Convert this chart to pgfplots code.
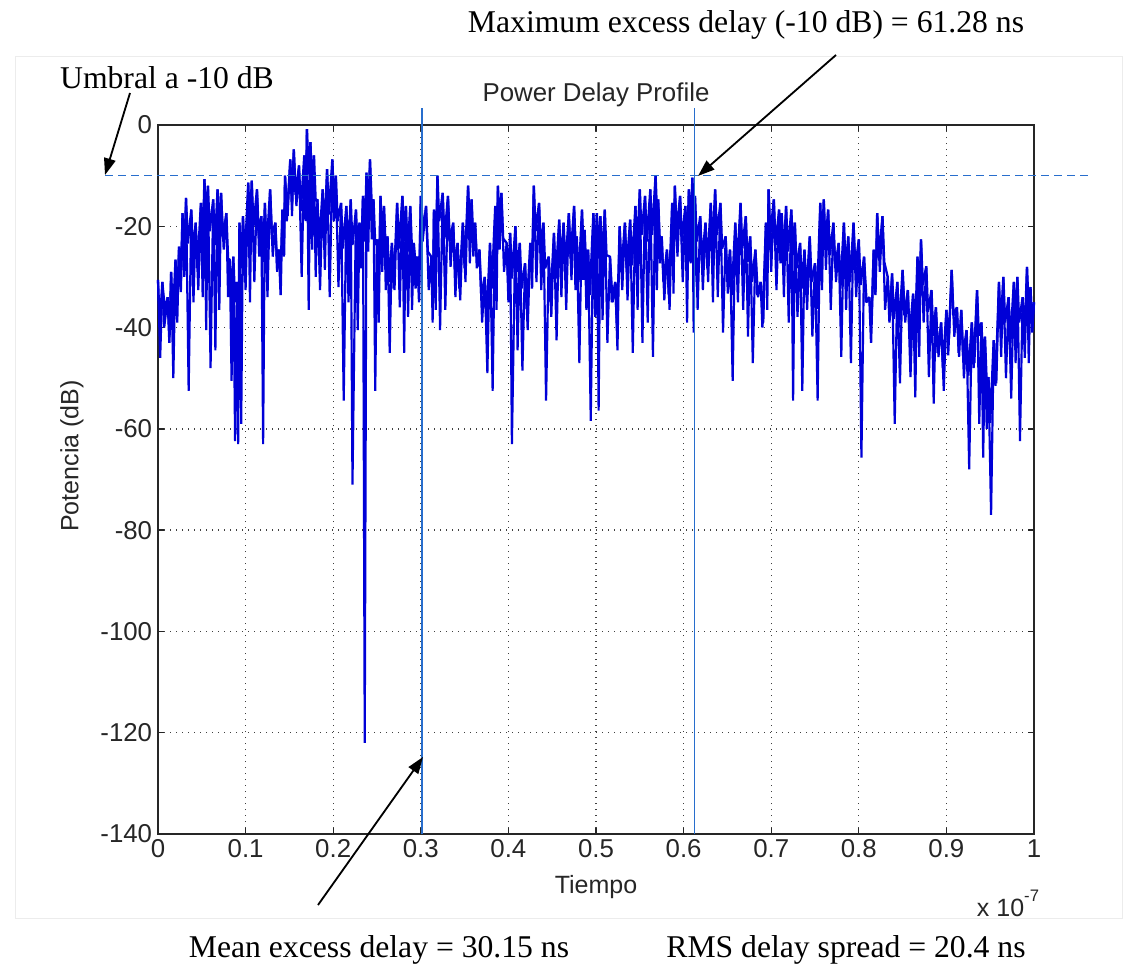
\documentclass[border=0pt]{standalone}
\usepackage{fontspec}
\usepackage{pgfplots}
\pgfplotsset{compat=1.18}
\usetikzlibrary{arrows.meta}
\newfontfamily\msans{Liberation Sans}
\newfontfamily\tnr{Liberation Serif}
\definecolor{pdp}{RGB}{0,0,215}
\definecolor{mlblue}{RGB}{40,110,205}
\begin{document}
\begin{tikzpicture}
\path[use as bounding box] (0pt,0pt) rectangle (682.8pt,587.4pt);
\draw[gray!15, line width=0.6pt] (9pt,36.6pt) rectangle (673.2pt,553.2pt);
\begin{axis}[
  at={(94.8pt,87pt)}, anchor=south west,
  width=525.6pt, height=425.4pt, scale only axis,
  xmin=0, xmax=1, ymin=-140, ymax=0,
  xtick={0,0.1,0.2,0.3,0.4,0.5,0.6,0.7,0.8,0.9,1},
  xticklabels={0,0.1,0.2,0.3,0.4,0.5,0.6,0.7,0.8,0.9,1},
  ytick={-140,-120,-100,-80,-60,-40,-20,0},
  tick pos=both, tick align=inside,
  major tick length=3.6pt,
  major tick style={black!85, line width=0.8pt},
  axis line style={black!85, line width=0.9pt},
  grid=major,
  major grid style={black!75, line width=0.8pt, dash pattern=on 0.8pt off 2.8pt},
  /pgf/number format/assume math mode=true,
  tick label style={font=\msans\fontsize{15.5pt}{18pt}\selectfont, black!85},
  clip=false,
]
% dense band of the response: each local maximum and the fast ripple just below it
\addplot[pdp, line width=1.4pt, line join=bevel] coordinates {
(0.000,-30.6) (0.002,-39.6) (0.005,-31) (0.007,-40) (0.011,-34) (0.013,-43)
(0.015,-29) (0.017,-38) (0.020,-26.6) (0.022,-35.6) (0.024,-24) (0.026,-33)
(0.028,-17.4) (0.030,-26.4) (0.032,-14.4) (0.034,-23.4) (0.038,-16.7) (0.040,-25.7)
(0.043,-19.3) (0.045,-28.3) (0.049,-15.4) (0.051,-24.4) (0.053,-10.7) (0.055,-19.7)
(0.057,-12) (0.059,-21) (0.063,-14.7) (0.065,-23.7) (0.068,-12.7) (0.070,-21.7)
(0.072,-13.4) (0.074,-22.4) (0.078,-17.4) (0.080,-26.4) (0.082,-26.6) (0.084,-35.6)
(0.086,-26) (0.088,-35) (0.090,-31) (0.092,-40) (0.093,-19.3) (0.095,-28.3)
(0.097,-18) (0.099,-27) (0.103,-11.4) (0.105,-20.4) (0.107,-11) (0.109,-20)
(0.113,-12.7) (0.115,-21.7) (0.118,-18) (0.120,-27) (0.122,-15.4) (0.124,-24.4)
(0.128,-12.7) (0.130,-21.7) (0.134,-19.3) (0.136,-28.3) (0.138,-24.6) (0.140,-33.6)
(0.142,-16.7) (0.144,-25.7) (0.145,-10) (0.147,-19) (0.151,-6.8) (0.153,-15.8)
(0.155,-4.8) (0.157,-13.8) (0.161,-8) (0.163,-17) (0.167,-6) (0.169,-15)
(0.170,-0.8) (0.172,-9.8) (0.174,-3.4) (0.176,-12.4) (0.178,-6) (0.180,-15)
(0.182,-14.7) (0.184,-23.7) (0.188,-12.7) (0.190,-21.7) (0.193,-8.7) (0.195,-17.7)
(0.199,-6.8) (0.201,-15.8) (0.203,-10) (0.205,-19) (0.209,-15.4) (0.211,-24.4)
(0.215,-16) (0.217,-25) (0.220,-14.7) (0.222,-23.7) (0.226,-16.7) (0.228,-25.7)
(0.230,-19.3) (0.232,-28.3) (0.234,-14) (0.236,-23) (0.238,-9.4) (0.240,-18.4)
(0.242,-6.8) (0.244,-15.8) (0.246,-14.7) (0.248,-23.7) (0.250,-22.6) (0.252,-31.6)
(0.254,-14) (0.256,-23) (0.258,-16) (0.260,-25) (0.262,-22) (0.264,-31)
(0.267,-23.3) (0.269,-32.3) (0.273,-15.4) (0.275,-24.4) (0.279,-14) (0.281,-23)
(0.283,-16) (0.285,-25) (0.288,-16) (0.290,-25) (0.292,-23.3) (0.294,-32.3)
(0.296,-26) (0.298,-35) (0.300,-14) (0.302,-23) (0.306,-16) (0.308,-25)
(0.312,-26) (0.314,-35) (0.315,-16.7) (0.317,-25.7) (0.319,-10) (0.321,-19)
(0.325,-13.4) (0.327,-22.4) (0.331,-14) (0.333,-23) (0.337,-19.3) (0.339,-28.3)
(0.342,-23.3) (0.344,-32.3) (0.348,-19.3) (0.350,-28.3) (0.354,-12) (0.356,-21)
(0.358,-14.7) (0.360,-23.7) (0.362,-19.3) (0.364,-28.3) (0.367,-24.6) (0.369,-33.6)
(0.373,-30) (0.375,-39) (0.379,-23.3) (0.381,-32.3) (0.385,-16) (0.387,-25)
(0.388,-12) (0.390,-21) (0.392,-13.4) (0.394,-22.4) (0.398,-23.3) (0.400,-32.3)
(0.402,-21.3) (0.404,-30.3) (0.408,-20) (0.410,-29) (0.413,-23.3) (0.415,-32.3)
(0.419,-27.3) (0.421,-36.3) (0.425,-23.3) (0.427,-32.3) (0.429,-12) (0.431,-21)
(0.435,-15.4) (0.437,-24.4) (0.440,-19.3) (0.442,-28.3) (0.446,-26) (0.448,-35)
(0.452,-21.3) (0.454,-30.3) (0.458,-18.7) (0.460,-27.7) (0.463,-19.3) (0.465,-28.3)
(0.469,-17.4) (0.471,-26.4) (0.475,-16) (0.477,-25) (0.478,-22) (0.480,-31)
(0.484,-16.7) (0.486,-25.7) (0.487,-20.7) (0.489,-29.7) (0.491,-24.6) (0.493,-33.6)
(0.497,-17.4) (0.499,-26.4) (0.501,-17.4) (0.503,-26.4) (0.505,-18) (0.507,-27)
(0.510,-16.7) (0.512,-25.7) (0.516,-26) (0.518,-35) (0.522,-31) (0.524,-40)
(0.527,-20) (0.529,-29) (0.533,-19.3) (0.535,-28.3) (0.539,-18.7) (0.541,-27.7)
(0.545,-16) (0.547,-25) (0.550,-12.7) (0.552,-21.7) (0.556,-14) (0.558,-23)
(0.562,-12.7) (0.564,-21.7) (0.568,-10) (0.570,-19) (0.571,-14.7) (0.573,-23.7)
(0.575,-22) (0.577,-31) (0.581,-24.6) (0.583,-33.6) (0.587,-15.4) (0.589,-24.4)
(0.590,-12) (0.592,-21) (0.596,-14) (0.598,-23) (0.602,-16) (0.604,-25)
(0.606,-12.7) (0.608,-21.7) (0.610,-10.4) (0.612,-19.4) (0.613,-14) (0.615,-23)
(0.619,-18) (0.621,-27) (0.625,-19.3) (0.627,-28.3) (0.631,-15.4) (0.633,-24.4)
(0.636,-12.7) (0.638,-21.7) (0.642,-15.4) (0.644,-24.4) (0.648,-22) (0.650,-31)
(0.653,-24.6) (0.655,-33.6) (0.659,-19.3) (0.661,-28.3) (0.665,-15.4) (0.667,-24.4)
(0.671,-18) (0.673,-27) (0.676,-22) (0.678,-31) (0.682,-24.6) (0.684,-33.6)
(0.688,-31) (0.690,-40) (0.694,-19.3) (0.696,-28.3) (0.697,-12.7) (0.699,-21.7)
(0.703,-14.7) (0.705,-23.7) (0.709,-16.7) (0.711,-25.7) (0.712,-17.4) (0.714,-26.4)
(0.717,-16) (0.719,-25) (0.723,-16.7) (0.725,-25.7) (0.727,-19.3) (0.729,-28.3)
(0.733,-23.3) (0.735,-32.3) (0.738,-24.6) (0.740,-33.6) (0.744,-22) (0.746,-31)
(0.750,-27.3) (0.752,-36.3) (0.756,-15.4) (0.758,-24.4) (0.760,-14.7) (0.762,-23.7)
(0.765,-16.7) (0.767,-25.7) (0.771,-19.3) (0.773,-28.3) (0.777,-23.3) (0.779,-32.3)
(0.783,-19.3) (0.785,-28.3) (0.788,-22) (0.790,-31) (0.794,-19.3) (0.796,-28.3)
(0.800,-22.6) (0.802,-31.6) (0.806,-26) (0.808,-35) (0.812,-34) (0.814,-43)
(0.817,-24.6) (0.819,-33.6) (0.821,-17.4) (0.823,-26.4) (0.827,-18) (0.829,-27)
(0.833,-30) (0.835,-39) (0.838,-29.3) (0.840,-38.3) (0.844,-31) (0.846,-40)
(0.850,-28.6) (0.852,-37.6) (0.856,-32.6) (0.858,-41.6) (0.862,-33.3) (0.864,-42.3)
(0.867,-26) (0.869,-35) (0.871,-22.6) (0.873,-31.6) (0.877,-27.9) (0.879,-36.9)
(0.883,-32.6) (0.885,-41.6) (0.888,-36) (0.890,-45) (0.894,-39) (0.896,-48)
(0.900,-36.5) (0.902,-45.5) (0.906,-28.6) (0.908,-37.6) (0.912,-36) (0.914,-45)
(0.917,-36.5) (0.919,-45.5) (0.923,-40.5) (0.925,-49.5) (0.929,-39) (0.931,-48)
(0.935,-32.6) (0.937,-41.6) (0.940,-39) (0.942,-48) (0.944,-41.8) (0.946,-50.8)
(0.948,-49.8) (0.950,-58.8) (0.954,-42.5) (0.956,-51.5) (0.960,-31) (0.962,-40)
(0.965,-30) (0.967,-39) (0.971,-34) (0.973,-43) (0.977,-31) (0.979,-40)
(0.981,-30) (0.983,-39) (0.987,-34) (0.989,-43) (0.992,-28) (0.994,-37)
(0.996,-32) (0.998,-41) (1.000,-35)
};
% deep fades of the response between the local maxima
\addplot[pdp, line width=1.3pt, line join=bevel] coordinates {
(0.000,-30.6) (0.0025,-46) (0.005,-31) (0.008,-36.5) (0.011,-34) (0.013,-42)
(0.015,-29) (0.0175,-50) (0.020,-26.6) (0.022,-39) (0.024,-24) (0.026,-32)
(0.028,-17.4) (0.030,-30) (0.032,-14.4) (0.035,-52.5) (0.038,-16.7) (0.0405,-35)
(0.043,-19.3) (0.046,-32.6) (0.049,-15.4) (0.051,-34) (0.053,-10.7) (0.055,-40.5)
(0.057,-12) (0.060,-48) (0.063,-14.7) (0.0655,-44.5) (0.068,-12.7) (0.070,-36.5)
(0.072,-13.4) (0.075,-24.6) (0.078,-17.4) (0.080,-34) (0.082,-26.6) (0.084,-50.5)
(0.086,-26) (0.088,-62.4) (0.090,-31) (0.0915,-63) (0.093,-19.3) (0.095,-59)
(0.097,-18) (0.100,-32.6) (0.103,-11.4) (0.105,-35) (0.107,-11) (0.110,-31)
(0.113,-12.7) (0.1155,-26) (0.118,-18) (0.120,-63) (0.122,-15.4) (0.125,-34)
(0.128,-12.7) (0.131,-26) (0.134,-19.3) (0.136,-29) (0.138,-24.6) (0.140,-28.6)
(0.142,-16.7) (0.1435,-26) (0.145,-10) (0.148,-18) (0.151,-6.8) (0.153,-18)
(0.155,-4.8) (0.158,-16) (0.161,-8) (0.164,-30) (0.167,-6) (0.1685,-19)
(0.170,-0.8) (0.172,-36.5) (0.174,-3.4) (0.176,-24.6) (0.178,-6) (0.180,-30)
(0.182,-14.7) (0.185,-32.6) (0.188,-12.7) (0.1905,-28.6) (0.193,-8.7) (0.196,-34)
(0.199,-6.8) (0.201,-19) (0.203,-10) (0.206,-32) (0.209,-15.4) (0.212,-54.4)
(0.215,-16) (0.2175,-35) (0.220,-14.7) (0.222,-71) (0.226,-16.7) (0.228,-40.5)
(0.230,-19.3) (0.232,-24.6) (0.234,-14) (0.236,-122) (0.238,-9.4) (0.240,-25)
(0.242,-6.8) (0.244,-22.6) (0.246,-14.7) (0.248,-52.5) (0.250,-22.6) (0.252,-39)
(0.254,-14) (0.256,-29) (0.258,-16) (0.260,-32.6) (0.262,-22) (0.2645,-45)
(0.267,-23.3) (0.270,-32.6) (0.273,-15.4) (0.276,-36) (0.279,-14) (0.281,-45)
(0.283,-16) (0.2855,-37.9) (0.288,-16) (0.290,-36.5) (0.292,-23.3) (0.294,-27.3)
(0.296,-26) (0.298,-31) (0.300,-14) (0.303,-20.7) (0.306,-16) (0.309,-32.6)
(0.312,-26) (0.3135,-39) (0.315,-16.7) (0.317,-36.5) (0.319,-10) (0.322,-40.5)
(0.325,-13.4) (0.328,-36.5) (0.331,-14) (0.334,-28) (0.337,-19.3) (0.3395,-34)
(0.342,-23.3) (0.345,-34.6) (0.348,-19.3) (0.351,-31) (0.354,-12) (0.356,-27.3)
(0.358,-14.7) (0.360,-26) (0.362,-19.3) (0.3645,-28) (0.367,-24.6) (0.370,-39)
(0.373,-30) (0.376,-49) (0.379,-23.3) (0.382,-52.5) (0.385,-16) (0.3865,-36.5)
(0.388,-12) (0.390,-24.6) (0.392,-13.4) (0.395,-29) (0.398,-23.3) (0.400,-35)
(0.402,-21.3) (0.404,-63) (0.408,-20) (0.4105,-44.5) (0.413,-23.3) (0.416,-48.5)
(0.419,-27.3) (0.422,-40.5) (0.425,-23.3) (0.427,-27.3) (0.429,-12) (0.432,-31)
(0.435,-15.4) (0.4375,-32.6) (0.440,-19.3) (0.443,-54.4) (0.446,-26) (0.449,-37.9)
(0.452,-21.3) (0.455,-42.5) (0.458,-18.7) (0.4605,-34) (0.463,-19.3) (0.466,-36.5)
(0.469,-17.4) (0.472,-30.6) (0.475,-16) (0.4765,-32.6) (0.478,-22) (0.481,-47)
(0.484,-16.7) (0.4855,-30.6) (0.487,-20.7) (0.489,-36.5) (0.491,-24.6) (0.494,-58.4)
(0.497,-17.4) (0.499,-37.9) (0.501,-17.4) (0.503,-56.4) (0.505,-18) (0.5075,-38.5)
(0.510,-16.7) (0.513,-43) (0.516,-26) (0.519,-35) (0.522,-31) (0.5245,-44.5)
(0.527,-20) (0.530,-32.6) (0.533,-19.3) (0.536,-34.6) (0.539,-18.7) (0.542,-45)
(0.545,-16) (0.5475,-36.5) (0.550,-12.7) (0.553,-43) (0.556,-14) (0.559,-39)
(0.562,-12.7) (0.565,-45.8) (0.568,-10) (0.5695,-32.6) (0.571,-14.7) (0.573,-27.3)
(0.575,-22) (0.578,-34.6) (0.581,-24.6) (0.584,-36.5) (0.587,-15.4) (0.5885,-33.3)
(0.590,-12) (0.593,-26) (0.596,-14) (0.599,-31) (0.602,-16) (0.604,-39)
(0.606,-12.7) (0.608,-27.3) (0.610,-10.4) (0.6115,-41) (0.613,-14) (0.616,-36.5)
(0.619,-18) (0.622,-32.6) (0.625,-19.3) (0.628,-31) (0.631,-15.4) (0.6335,-35)
(0.636,-12.7) (0.639,-34) (0.642,-15.4) (0.645,-41) (0.648,-22) (0.6505,-33.3)
(0.653,-24.6) (0.656,-50.5) (0.659,-19.3) (0.662,-35) (0.665,-15.4) (0.668,-36.5)
(0.671,-18) (0.6735,-41.8) (0.676,-22) (0.679,-47) (0.682,-24.6) (0.685,-34)
(0.688,-31) (0.691,-39) (0.694,-19.3) (0.6955,-36.5) (0.697,-12.7) (0.700,-29)
(0.703,-14.7) (0.706,-32.6) (0.709,-16.7) (0.7105,-27.3) (0.712,-17.4) (0.7145,-34)
(0.717,-16) (0.720,-39) (0.723,-16.7) (0.725,-54.4) (0.727,-19.3) (0.730,-37.9)
(0.733,-23.3) (0.7355,-52.5) (0.738,-24.6) (0.741,-36.5) (0.744,-22) (0.747,-41.8)
(0.750,-27.3) (0.753,-54.4) (0.756,-15.4) (0.758,-32.6) (0.760,-14.7) (0.7625,-28.6)
(0.765,-16.7) (0.768,-36.5) (0.771,-19.3) (0.774,-31) (0.777,-23.3) (0.780,-45.8)
(0.783,-19.3) (0.7855,-36.5) (0.788,-22) (0.791,-47) (0.794,-19.3) (0.797,-34)
(0.800,-22.6) (0.803,-65.7) (0.806,-26) (0.809,-35) (0.812,-34) (0.8145,-39)
(0.817,-24.6) (0.819,-33) (0.821,-17.4) (0.824,-29) (0.827,-18) (0.830,-36.5)
(0.833,-30) (0.8355,-38) (0.838,-29.3) (0.841,-59) (0.844,-31) (0.847,-51)
(0.850,-28.6) (0.853,-39) (0.856,-32.6) (0.859,-49.8) (0.862,-33.3) (0.8645,-53.8)
(0.867,-26) (0.869,-45.8) (0.871,-22.6) (0.874,-39) (0.877,-27.9) (0.880,-49.8)
(0.883,-32.6) (0.8855,-55) (0.888,-36) (0.891,-45.8) (0.894,-39) (0.897,-52.5)
(0.900,-36.5) (0.903,-42) (0.906,-28.6) (0.909,-41.8) (0.912,-36) (0.9145,-45.8)
(0.917,-36.5) (0.920,-50) (0.923,-40.5) (0.926,-68) (0.929,-39) (0.932,-47)
(0.935,-32.6) (0.9375,-59) (0.940,-39) (0.942,-65.7) (0.944,-41.8) (0.946,-60)
(0.948,-49.8) (0.951,-77) (0.954,-42.5) (0.957,-51) (0.960,-31) (0.9625,-45.8)
(0.965,-30) (0.968,-50) (0.971,-34) (0.974,-54) (0.977,-31) (0.979,-47)
(0.981,-30) (0.984,-62.4) (0.987,-34) (0.9895,-46) (0.992,-28) (0.994,-47)
(0.996,-32) (0.998,-40) (1.000,-35)
};
\draw[mlblue, line width=0.85pt, dash pattern=on 4.8pt off 3pt] (axis cs:-0.06,-10) -- (axis cs:1.062,-10);
\draw[mlblue, line width=0.75pt] (axis cs:0.3015,-140) -- (axis cs:0.3015,3.4);
\draw[mlblue, line width=0.75pt] (axis cs:0.6128,-140) -- (axis cs:0.6128,3.4);
\end{axis}
\node[font=\msans\fontsize{15.5pt}{18pt}\selectfont, text=black!85] at (357.6pt,530.4pt) {Power Delay Profile};
\node[font=\msans\fontsize{15pt}{18pt}\selectfont, text=black!85] at (357.6pt,55.2pt) {Tiempo};
\node[font=\msans\fontsize{15pt}{18pt}\selectfont, text=black!85, rotate=90] at (43.2pt,313.8pt) {Potencia (dB)};
\node[font=\msans\fontsize{15pt}{18pt}\selectfont, text=black!85, anchor=base] at (604.8pt,37.5pt) {x 10\raisebox{1.1ex}{\fontsize{10pt}{10pt}\selectfont -7}};
\node[font=\tnr\fontsize{19pt}{22pt}\selectfont] at (100.2pt,540.6pt) {Umbral a -10 dB};
\node[font=\tnr\fontsize{19pt}{22pt}\selectfont] at (447.6pt,572.4pt) {Maximum excess delay (-10 dB) = 61.28 ns};
\node[font=\tnr\fontsize{19pt}{22pt}\selectfont, anchor=base] at (227.4pt,13.2pt) {Mean excess delay = 30.15 ns};
\node[font=\tnr\fontsize{19pt}{22pt}\selectfont, anchor=base] at (507.6pt,13.2pt) {RMS delay spread = 20.4 ns};
\draw[line width=1.1pt, -{Triangle[length=10pt,width=7pt]}] (78pt,531.6pt) -- (63pt,482.4pt);
\draw[line width=1.1pt, -{Triangle[length=10pt,width=7pt]}] (501.6pt,554.4pt) -- (418.8pt,481.8pt);
\draw[line width=1.1pt, -{Triangle[length=10pt,width=7pt]}] (190.8pt,44.4pt) -- (253.8pt,133.2pt);
\end{tikzpicture}
\end{document}
